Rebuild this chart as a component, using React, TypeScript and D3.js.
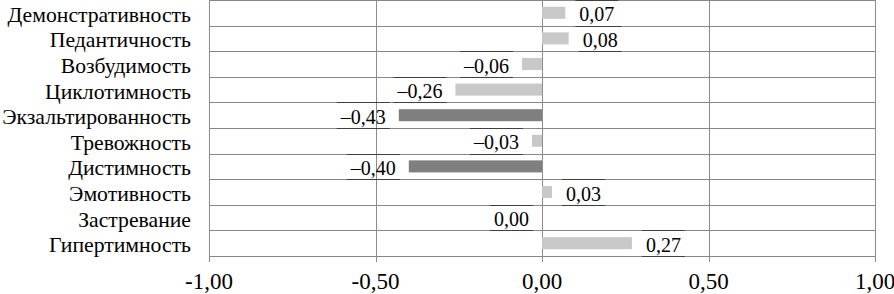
import React from "react";
import * as d3 from "d3";

const categories = [
  "Демонстративность",
  "Педантичность",
  "Возбудимость",
  "Циклотимность",
  "Экзальтированность",
  "Тревожность",
  "Дистимность",
  "Эмотивность",
  "Застревание",
  "Гипертимность",
];
const values = [0.07, 0.08, -0.06, -0.26, -0.43, -0.03, -0.4, 0.03, 0.0, 0.27];
const highlighted = ["Экзальтированность", "Дистимность"];
const xTicks = [-1, -0.5, 0, 0.5, 1];

const WIDTH = 894;
const HEIGHT = 294;
const MARGINS = { top: 0, right: 19, bottom: 38, left: 209 };
const FONT = "Liberation Serif";
const LABEL_SIZE = 20;

const fmt = (v: number, dash: string) =>
  (v < 0 ? dash : "") + Math.abs(v).toFixed(2).replace(".", ",");

// rough Times-metric width of a value label
const labelWidth = (s: string) =>
  s.split("").reduce((w, ch) => w + (ch === "," ? 0.25 : 0.5), 0) * LABEL_SIZE;

const App = () => {
  const width = WIDTH - MARGINS.left - MARGINS.right;
  const height = HEIGHT - MARGINS.top - MARGINS.bottom;

  const x = d3.scaleLinear().domain([-1, 1]).range([0, width]);
  const y = d3
    .scaleBand<string>()
    .domain(categories)
    .range([0, height])
    .paddingInner(0.53)
    .paddingOuter(0.265);
  const step = y.step();
  const bandTop = (c: string) => y(c)! - y.paddingOuter() * step;
  const px = (v: number) => Math.round(v) + 0.5;

  return (
    <svg
      width={WIDTH}
      height={HEIGHT}
      style={{ position: "absolute", left: 0, top: 0, background: "#fff" }}
    >
      <g transform={`translate(${MARGINS.left}, ${MARGINS.top})`}>
        {d3.range(categories.length + 1).map((i) => (
          <line
            key={"h" + i}
            x1={0}
            x2={width}
            y1={px(i * step)}
            y2={px(i * step)}
            stroke="#868686"
          />
        ))}
        {xTicks.map((d) => (
          <g key={"t" + d}>
            <line
              x1={px(x(d))}
              x2={px(x(d))}
              y1={0}
              y2={height + 6}
              stroke="#8c8c8c"
            />
            <text
              x={x(d)}
              y={height + 33}
              textAnchor="middle"
              fontFamily={FONT}
              fontSize={23}
              fill="#000"
            >
              {fmt(d, "-")}
            </text>
          </g>
        ))}
        {categories.map((c) => (
          <text
            key={"c" + c}
            x={-18}
            y={bandTop(c) + step / 2 + 9}
            textAnchor="end"
            fontFamily={FONT}
            fontSize={21.7}
            fill="#000"
          >
            {c}
          </text>
        ))}
        {categories.map((c, i) => (
          <rect
            key={"b" + c}
            x={x(Math.min(0, values[i]))}
            y={y(c)!}
            width={Math.abs(x(values[i]) - x(0))}
            height={y.bandwidth()}
            fill={highlighted.includes(c) ? "#7f7f7f" : "#c8c8c8"}
          />
        ))}
        {categories.map((c, i) => {
          const v = values[i];
          const left = v <= 0;
          const s = fmt(v, "\u2013");
          const w = labelWidth(s);
          const lx = left ? x(v) - 13 : x(v) + 14;
          const x0 = left ? lx - w - 4 : lx - 4;
          return (
            <g key={"l" + c}>
              {[bandTop(c), bandTop(c) + step].map((yy, k) => (
                <line
                  key={k}
                  x1={x0}
                  x2={x0 + w + 8}
                  y1={px(yy)}
                  y2={px(yy)}
                  stroke="#404040"
                />
              ))}
              <text
                x={lx}
                y={bandTop(c) + step / 2 + 8.5}
                textAnchor={left ? "end" : "start"}
                fontFamily={FONT}
                fontSize={LABEL_SIZE}
                fill="#000"
              >
                {s}
              </text>
            </g>
          );
        })}
      </g>
    </svg>
  );
};

export default App;
